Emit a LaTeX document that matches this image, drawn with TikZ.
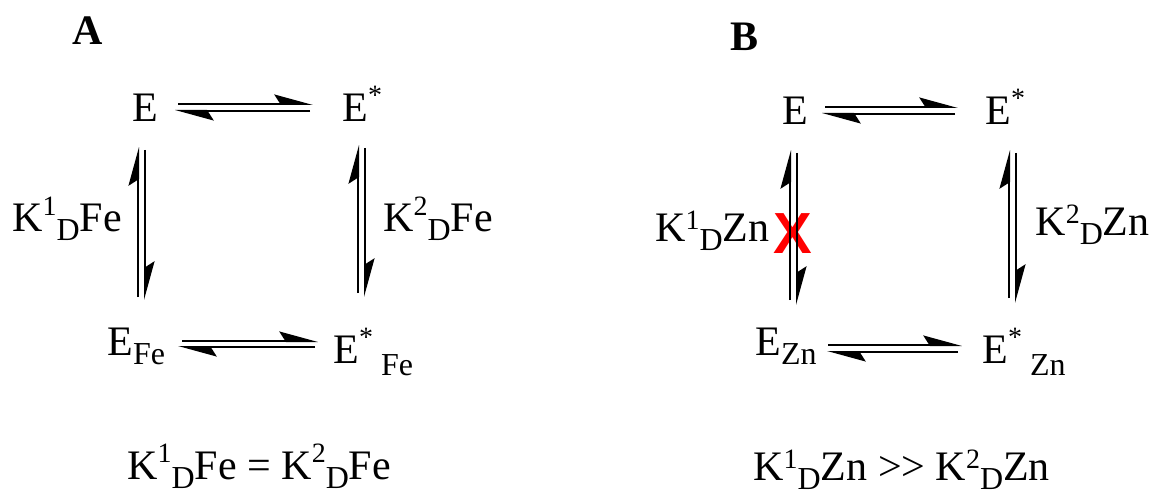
\documentclass[tikz,border=0pt]{standalone}
\usepackage{fontspec}
\setmainfont{Liberation Serif}
\setsansfont{Liberation Sans}
\usepackage{tikz}
\usetikzlibrary{arrows.meta}

\newcommand{\expo}[2][8.5pt]{\raisebox{#1}{\fontsize{14}{14}\selectfont #2}}
\newcommand{\indice}[2][-4.5pt]{\raisebox{#1}{\fontsize{16}{16}\selectfont #2}}

\begin{document}
\begin{tikzpicture}[
    x=0.5pt, y=-0.5pt,
    espece/.style={inner sep=0pt, anchor=base west, font=\fontsize{21}{25}\selectfont},
    titre/.style={espece, font=\fontsize{21}{25}\selectfont\bfseries},
    equi/.style={line width=1pt, -{Stealth[harpoon, length=17.5pt, width=9.5pt, inset=3pt]}},
  ]
  \useasboundingbox (0,0) rectangle (1155,497);

  % cas A : le fer
  \node[titre]  (titreA) at (72,45)   {A};
  \node[espece] (eA)     at (132,122) {E};
  \node[espece] (esA)    at (342,122) {E\expo{*}};
  \node[espece] (efA)    at (107,355) {E\indice{Fe}};
  \node[espece] (esfA)   at (333,363) {E\expo{*}\hspace{4pt}\indice[-6pt]{Fe}};
  \node[espece] (k1A)    at (12,232)  {K\expo{1}\indice{D}Fe};
  \node[espece] (k2A)    at (383,232) {K\expo{2}\indice{D}Fe};
  \node[espece] (eqA)    at (127,479) {K\expo{1}\indice{D}Fe = K\expo{2}\indice{D}Fe};

  \draw[equi] ([shift={(46,-18)}]eA.base west) -- ([shift={(-29,-18)}]esA.base west);
  \draw[equi] ([shift={(-32,-11)}]esA.base west) -- ([shift={(43,-11)}]eA.base west);
  \draw[equi] ([shift={(75,-14)}]efA.base west) -- ([shift={(-15,-22)}]esfA.base west);
  \draw[equi] ([shift={(-18,-16)}]esfA.base west) -- ([shift={(71,-8)}]efA.base west);
  \draw[equi] ([shift={(31,-58)}]efA.base west) -- ([shift={(6,25)}]eA.base west);
  \draw[equi] ([shift={(13,28)}]eA.base west) -- ([shift={(38,-55)}]efA.base west);
  \draw[equi] ([shift={(25,-70)}]esfA.base west) -- ([shift={(16,23)}]esA.base west);
  \draw[equi] ([shift={(23,26)}]esA.base west) -- ([shift={(32,-66)}]esfA.base west);

  % cas B : le zinc
  \node[titre]  (titreB) at (730,51)  {B};
  \node[espece] (eB)     at (782,125) {E};
  \node[espece] (esB)    at (985,125) {E\expo{*}};
  \node[espece] (ezB)    at (755,355) {E\indice{Zn}};
  \node[espece] (eszB)   at (982,363) {E\expo{*}\hspace{4pt}\indice[-6pt]{Zn}};
  \node[espece] (k1B)    at (655,242) {K\expo[6pt]{1}\indice{D}Zn};
  \node[espece] (k2B)    at (1035,235) {K\expo[6pt]{2}\indice{D}Zn};
  \node[espece] (eqB)    at (753,480) {K\expo[6pt]{1}\indice{D}Zn >{}> K\expo[6pt]{2}\indice{D}Zn};
  \node[inner sep=0pt, text=red, font=\fontsize{29}{30}\selectfont\sffamily\bfseries]
    (croix) at (793,234) {X}; % croix rouge

  \draw[equi] ([shift={(43,-18)}]eB.base west) -- ([shift={(-27,-18)}]esB.base west);
  \draw[equi] ([shift={(-30,-11)}]esB.base west) -- ([shift={(40,-11)}]eB.base west);
  \draw[equi] ([shift={(73,-10)}]ezB.base west) -- ([shift={(-20,-18)}]eszB.base west);
  \draw[equi] ([shift={(-24,-11)}]eszB.base west) -- ([shift={(72,-3)}]ezB.base west);
  \draw[equi] ([shift={(35,-55)}]ezB.base west) -- ([shift={(8,25)}]eB.base west);
  \draw[equi] ([shift={(15,28)}]eB.base west) -- ([shift={(42,-50)}]ezB.base west);
  \draw[equi] ([shift={(27,-65)}]eszB.base west) -- ([shift={(24,25)}]esB.base west);
  \draw[equi] ([shift={(31,28)}]esB.base west) -- ([shift={(34,-60)}]eszB.base west);
\end{tikzpicture}
\end{document}
